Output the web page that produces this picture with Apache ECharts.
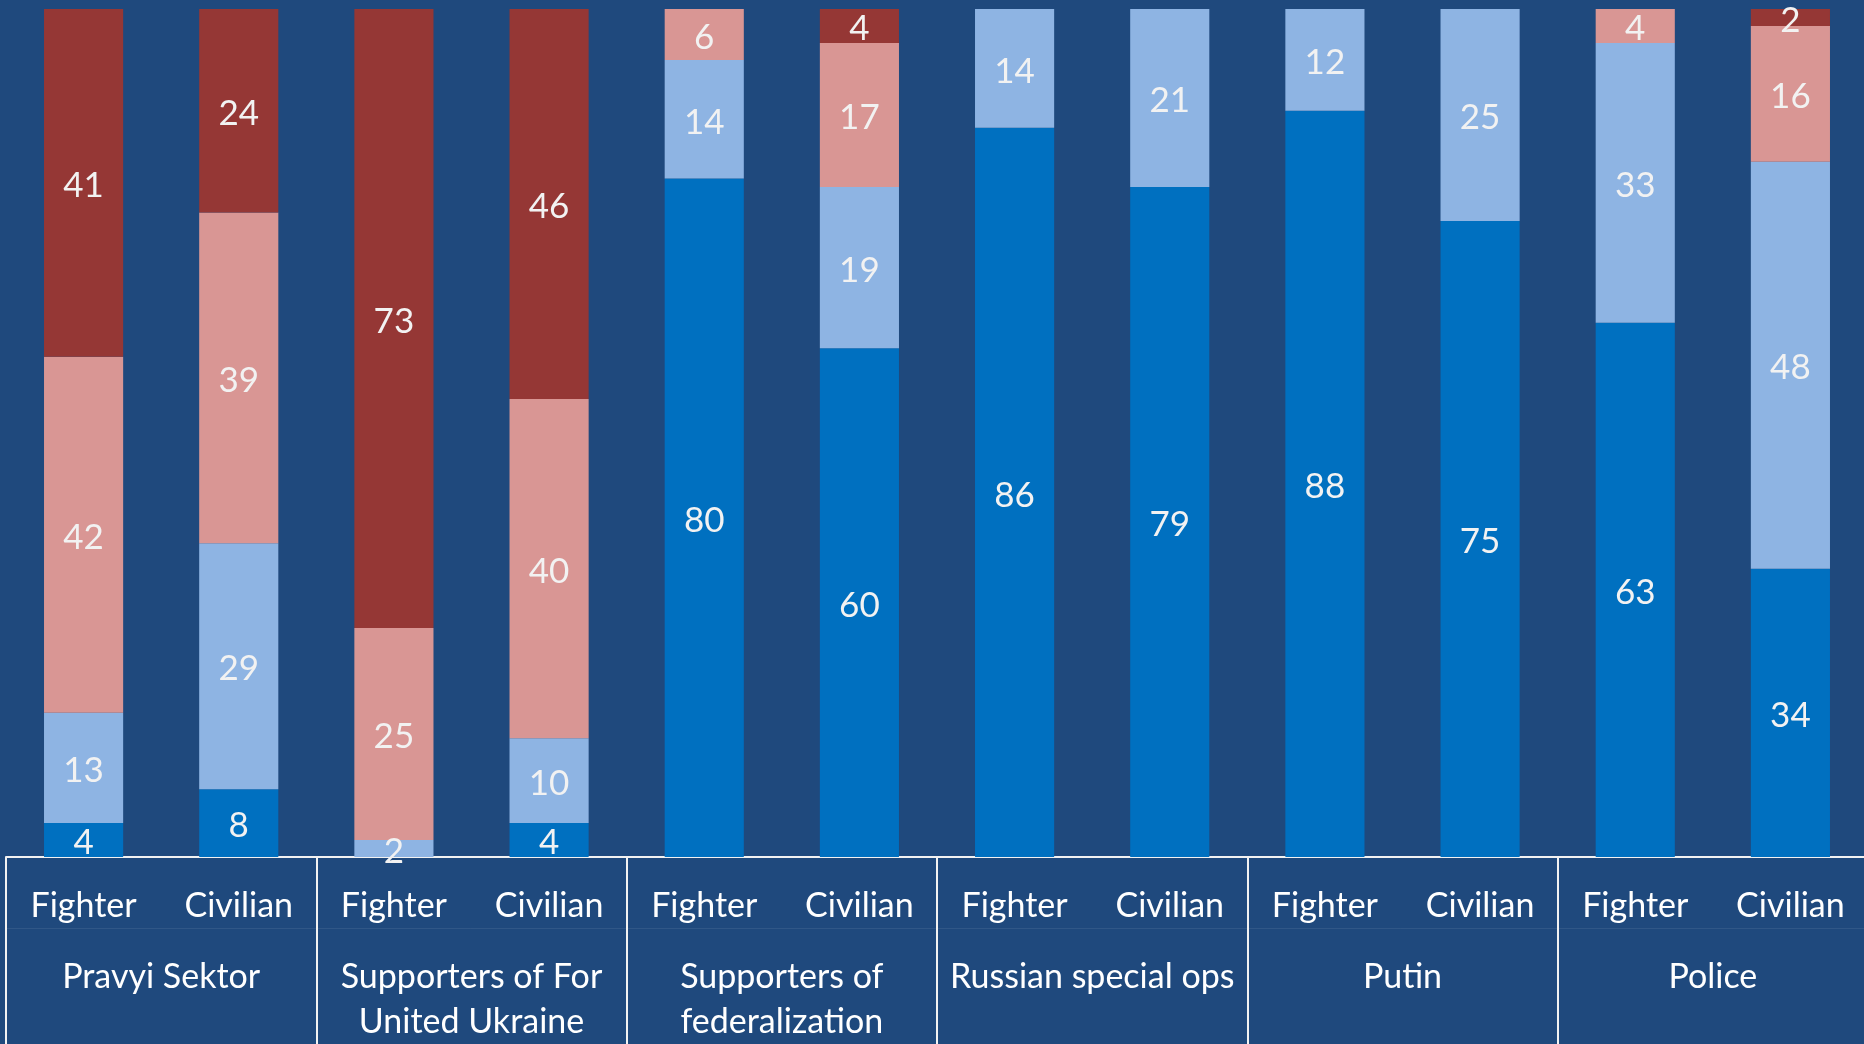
<!DOCTYPE html>
<html>
<head>
<meta charset="utf-8">
<script src="https://cdn.jsdelivr.net/npm/echarts@6/dist/echarts.min.js"></script>
<style>
html,body{margin:0;padding:0;background:#1F497D;}
#chart{width:1864px;height:1044px;}
</style>
</head>
<body>
<div id="chart"></div>
<script>
// Categories
const barLabels = ['Fighter','Civilian','Fighter','Civilian','Fighter','Civilian','Fighter','Civilian','Fighter','Civilian','Fighter','Civilian'];
const groupLabels = ['Pravyi Sektor','Supporters of For\nUnited Ukraine','Supporters of\nfederalization','Russian special ops','Putin','Police'];

// Series values (percent), stacked bottom to top
const darkBlue  = [4, 8, 0, 4, 80, 60, 86, 79, 88, 75, 63, 34];
const lightBlue = [13, 29, 2, 10, 14, 19, 14, 21, 12, 25, 33, 48];
const pink      = [42, 39, 25, 40, 6, 17, 0, 0, 0, 0, 4, 16];
const darkRed   = [41, 24, 73, 46, 0, 4, 0, 0, 0, 0, 0, 2];

const seriesNames = ['Series 1','Series 2','Series 3','Series 4'];
const seriesData = [darkBlue, lightBlue, pink, darkRed];
const seriesColors = ['#0070C0','#8EB4E3','#D99694','#953735'];

const FONT = 'Lato';
const chart = echarts.init(document.getElementById('chart'));

const series = seriesData.map((d, i) => ({
  name: seriesNames[i],
  type: 'bar',
  stack: 'total',
  xAxisIndex: 0,
  barWidth: '51%',
  data: d,
  itemStyle: { color: seriesColors[i] },
  label: {
    show: true,
    position: 'inside',
    offset: [0, 3],
    color: '#F2F2F2',
    fontFamily: FONT,
    fontSize: 35,
    formatter: p => p.value === 0 ? '' : String(p.value)
  },
  emphasis: { disabled: true }
}));

chart.setOption({
  backgroundColor: '#1F497D',
  animation: false,
  grid: { left: 6, right: -4, top: 9, bottom: 187, containLabel: false, outerBoundsMode: 'none' },
  xAxis: [
    {
      type: 'category',
      data: barLabels,
      position: 'bottom',
      axisLine: { show: true, lineStyle: { color: '#F2F2F2', width: 2 } },
      axisTick: { show: false },
      axisLabel: { interval: 0, color: '#FFFFFF', fontFamily: FONT, fontSize: 34, margin: 32 }
    },
    {
      type: 'category',
      data: groupLabels,
      position: 'bottom',
      axisLine: { show: false },
      axisTick: { show: true, interval: 0, length: 200, lineStyle: { color: '#F2F2F2', width: 2 } },
      axisLabel: { interval: 0, color: '#FFFFFF', fontFamily: FONT, fontSize: 34, lineHeight: 45, margin: 98 }
    },
    {
      type: 'category',
      data: groupLabels,
      position: 'bottom',
      offset: 71,
      axisLine: { show: true, lineStyle: { color: 'rgba(255,255,255,0.08)', width: 1 } },
      axisTick: { show: false },
      axisLabel: { show: false }
    }
  ],
  yAxis: {
    type: 'value',
    min: 0,
    max: 100,
    show: false,
    splitLine: { show: false }
  },
  series: series
});
</script>
</body>
</html>
